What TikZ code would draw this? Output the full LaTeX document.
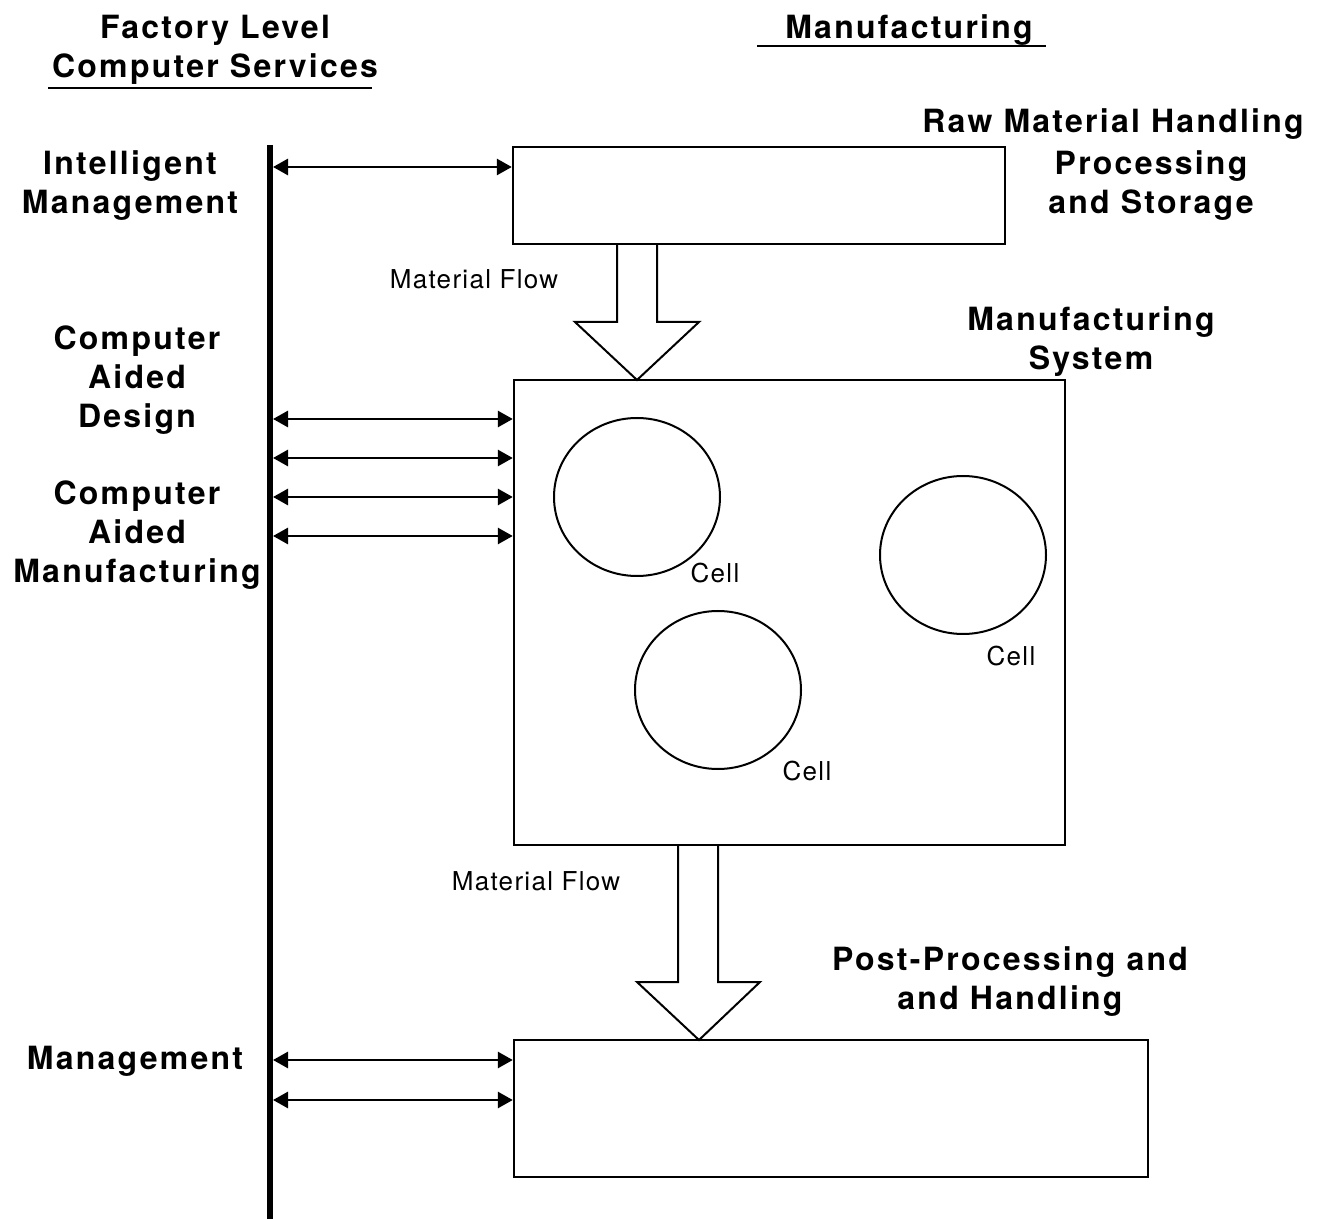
\documentclass[tikz,border=0pt]{standalone}
\usepackage{fontspec}
\setmainfont{TeX Gyre Heros}
\newfontfamily\headfont[LetterSpace=7]{TeX Gyre Heros}
\newfontfamily\flowfont[LetterSpace=5]{TeX Gyre Heros}
\usetikzlibrary{arrows.meta,positioning,calc,shapes.geometric}

\begin{document}
\begin{tikzpicture}[x=0.5pt,y=-0.5pt,
  box/.style={draw,line width=1.2pt,inner sep=0pt},
  cell/.style={draw,line width=1pt,ellipse,minimum width=83pt,minimum height=79pt,inner sep=0pt},
  heading/.style={font=\headfont\bfseries\fontsize{16}{19.5}\selectfont,align=center,inner sep=0pt,yshift=-1.5pt},
  small/.style={font=\flowfont\fontsize{13}{15}\selectfont,inner sep=0pt},
  link/.style={line width=1.4pt,{Triangle[length=7.5pt,width=8pt]}-{Triangle[length=7.5pt,width=8pt]}},
  flow/.style={line width=1pt,line join=miter},
  bus/.style={line width=3pt}]
\useasboundingbox (0,0) rectangle (1324,1219);

% column headings
\node(fls)[heading] at (215,46.5){Factory Level\\Computer Services};
\node(mfg)[heading] at (909,27){Manufacturing};
\draw[line width=1pt] (48,88) -- (372,88);
\draw[line width=1pt] (757,46) -- (1046,46);

% service labels
\node(im)[heading] at (130,182.5){Intelligent\\Management};
\node(cad)[heading] at (137,377.5){Computer\\Aided\\Design};
\node(cam)[heading] at (137,532.5){Computer\\Aided\\Manufacturing};
\node(mgt)[heading] at (135,1058){Management};

% bus
\coordinate(busT) at (270,145);
\coordinate(busB) at (270,1219);
\coordinate(bus) at (273,0);
\draw[bus] (busT) -- (busB);

% boxes
\node(raw)[box,minimum width=246pt,minimum height=48.5pt] at (759,195.5){};
\node(sys)[box,minimum width=275.5pt,minimum height=232.5pt] at (789.5,612.5){};
\node(post)[box,minimum width=317pt,minimum height=68.5pt] at (831,1108.5){};

\node(rawl)[heading] at (1113,121){Raw Material Handling};
\node(rawl2)[heading] at (1151,182.5){Processing\\and Storage};
\node(sysl)[heading] at (1091,339){Manufacturing\\System};
\node(postl)[heading] at (1010,978.5){Post-Processing and\\and Handling};

% cells
\node(c1)[cell] at (637,497){};
\node(c2)[cell] at (963,555){};
\node(c3)[cell] at (718,690){};
\node(c1l)[small] at (715,573){Cell};
\node(c2l)[small] at (1011,656){Cell};
\node(c3l)[small] at (807,771){Cell};

% links to services
\draw[link] (bus |- 0,167) -- (raw.west |- 0,167);
\foreach \y in {419,458,497,536}
  \draw[link] (bus |- 0,\y) -- (sys.west |- 0,\y);
\foreach \y in {1060,1100}
  \draw[link] (bus |- 0,\y) -- (post.west |- 0,\y);

% material flow
\draw[flow] (617,244) -- (617,322) -- (575,322) -- (637,380) -- (699,322) -- (657,322) -- (657,244);
\draw[flow] (678,845) -- (678,982) -- (637,982) -- (699,1040) -- (760,982) -- (718,982) -- (718,845);
\node(mf1)[small] at (474,279){Material Flow};
\node(mf2)[small] at (536,881){Material Flow};
\end{tikzpicture}
\end{document}
